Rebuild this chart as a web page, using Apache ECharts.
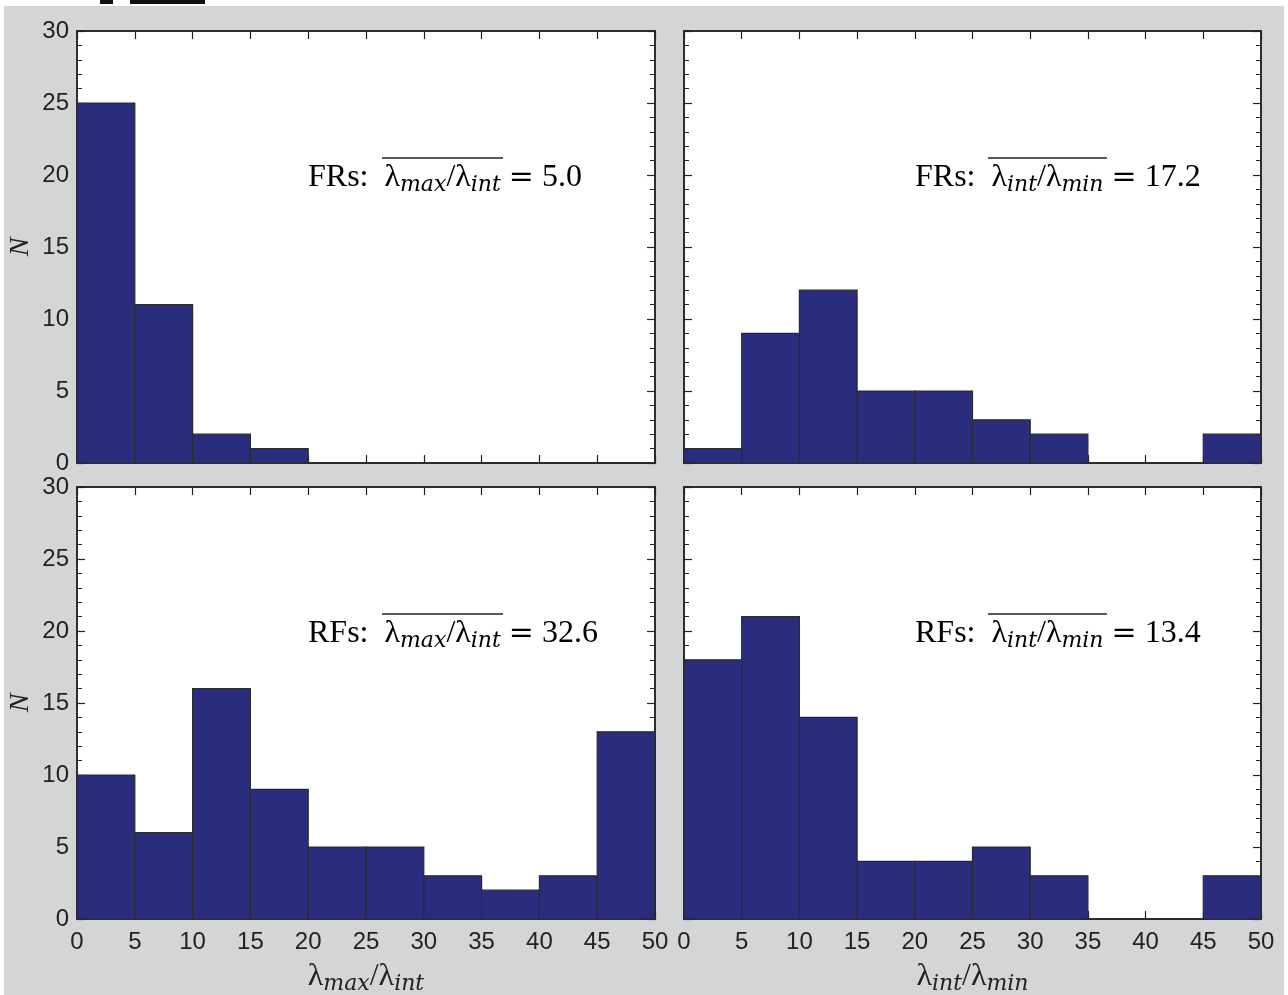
<!DOCTYPE html>
<html><head><meta charset="utf-8">
<script src="https://cdn.jsdelivr.net/npm/echarts@6/dist/echarts.min.js"></script>
<style>html,body{margin:0;padding:0;background:#fff}#c{width:1288px;height:995px}</style>
</head><body><div id="c"></div>
<script>
// ---- data ----
const binStarts = [0, 5, 10, 15, 20, 25, 30, 35, 40, 45];
const binWidth = 5;
const frMaxInt = [25, 11, 2, 1, 0, 0, 0, 0, 0, 0];
const frIntMin = [1, 9, 12, 5, 5, 3, 2, 0, 0, 2];
const rfMaxInt = [10, 6, 16, 9, 5, 5, 3, 2, 3, 13];
const rfIntMin = [18, 21, 14, 4, 4, 5, 3, 0, 0, 3];
const xTicks = [0, 5, 10, 15, 20, 25, 30, 35, 40, 45, 50];
const yTicks = [0, 5, 10, 15, 20, 25, 30];
const meanLabels = ['5.0', '17.2', '32.6', '13.4'];

const BAR = '#2a2c7d', EDGE = '#2b2b2b', INK = '#222';
const chart = echarts.init(document.getElementById('c'), null, {renderer: 'canvas'});

const grids = [
  {left: 77, top: 31, width: 578, height: 432},
  {left: 684, top: 31, width: 577, height: 432},
  {left: 77, top: 487, width: 578, height: 432},
  {left: 684, top: 487, width: 577, height: 432}
];
const seriesData = [frMaxInt, frIntMin, rfMaxInt, rfIntMin];

const serifRich = {
  b: {fontFamily: 'Liberation Serif', fontSize: 32, color: INK},
  e: {fontFamily: 'DejaVu Serif', fontSize: 30, color: INK},
  s: {fontFamily: 'DejaVu Serif', fontStyle: 'italic', fontSize: 22, color: INK, padding: [14, 0, 0, 0]}
};

const tickStyle = {show: true, inside: true, length: 8, lineStyle: {color: INK, width: 1.2}};
const xAxes = [], yAxes = [], series = [];
grids.forEach((g, i) => {
  const bottomRow = i >= 2, leftCol = i % 2 === 0;
  const common = {gridIndex: i, type: 'value', min: 0, max: 50, interval: 5,
    splitLine: {show: false}, axisLine: {show: true, onZero: false, lineStyle: {color: INK, width: 1.5}}};
  xAxes.push(Object.assign({}, common, {
    position: 'bottom',
    axisTick: tickStyle,
    axisLabel: {show: bottomRow, fontFamily: 'Liberation Sans', fontSize: 24, color: INK, margin: 11,
      showMinLabel: true, showMaxLabel: true},
    name: bottomRow ? (leftCol ? '{b|λ}{s|max}{b|/λ}{s|int}' : '{b|λ}{s|int}{b|/λ}{s|min}') : '',
    nameLocation: 'middle', nameGap: 40,
    nameTextStyle: {rich: serifRich}
  }));
  xAxes.push(Object.assign({}, common, {
    position: 'top',
    axisTick: tickStyle,
    axisLabel: {show: false}
  }));
  const ycommon = {gridIndex: i, type: 'value', min: 0, max: 30, interval: 5,
    splitLine: {show: false}, axisLine: {show: true, onZero: false, lineStyle: {color: INK, width: 1.5}},
    minorTick: {show: true, splitNumber: 5, length: 5, lineStyle: {color: INK, width: 1}}};
  yAxes.push(Object.assign({}, ycommon, {
    position: 'left',
    axisTick: tickStyle,
    axisLabel: {show: leftCol, fontFamily: 'Liberation Sans', fontSize: 24, color: INK, margin: 8},
    name: leftCol ? 'N' : '', nameLocation: 'middle', nameGap: 42,
    nameTextStyle: {fontFamily: 'Liberation Serif', fontStyle: 'italic', fontSize: 28, color: INK}
  }));
  yAxes.push(Object.assign({}, ycommon, {
    position: 'right',
    axisTick: tickStyle,
    axisLabel: {show: false}
  }));
  series.push({
    type: 'custom', xAxisIndex: 2 * i, yAxisIndex: 2 * i,
    data: binStarts.map((s, k) => [s, s + binWidth, seriesData[i][k]]),
    encode: {x: [0, 1], y: 2},
    renderItem: (params, api) => {
      const p0 = api.coord([api.value(0), api.value(2)]);
      const p1 = api.coord([api.value(1), 0]);
      return {type: 'rect', shape: {x: p0[0], y: p0[1], width: p1[0] - p0[0], height: p1[1] - p0[1]},
        style: {fill: BAR, stroke: EDGE, lineWidth: 1.2}};
    },
    z: 2
  });
});

// annotation labels
const annot = [
  {pre: 'FRs:  ', a: 'max', b: 'int', x: 308, y: 162, ol: [382, 503]},
  {pre: 'FRs:  ', a: 'int', b: 'min', x: 915, y: 162, ol: [988, 1107]},
  {pre: 'RFs:  ', a: 'max', b: 'int', x: 308, y: 618, ol: [382, 503]},
  {pre: 'RFs:  ', a: 'int', b: 'min', x: 915, y: 618, ol: [988, 1107]}
];
const graphics = [
  {type: 'rect', left: 4, top: 6, shape: {width: 1280, height: 989}, style: {fill: '#d4d5d7'}, z: -10},
  {type: 'rect', left: 100, top: 0, shape: {width: 13, height: 4}, style: {fill: '#111'}},
  {type: 'rect', left: 130, top: 0, shape: {width: 75, height: 4}, style: {fill: '#111'}}
];
annot.forEach((a, i) => {
  graphics.push({type: 'text', left: a.x, top: a.y, z: 10,
    style: {text: '{b|' + a.pre + 'λ}{s|' + a.a + '}{b|/λ}{s|' + a.b + '}{b| }{e|=}{b| ' + meanLabels[i] + '}',
      rich: serifRich}});
  graphics.push({type: 'line', z: 10, shape: {x1: a.ol[0], y1: a.y - 4, x2: a.ol[1], y2: a.y - 4},
    style: {stroke: INK, lineWidth: 1.3}});
});

chart.setOption({
  backgroundColor: '#fff',
  animation: false,
  grid: grids.map(g => Object.assign({show: true, backgroundColor: '#fff', borderColor: INK, borderWidth: 1.5,
    outerBoundsMode: 'none', containLabel: false}, g)),
  xAxis: xAxes, yAxis: yAxes, series: series, graphic: graphics
});
</script></body></html>
